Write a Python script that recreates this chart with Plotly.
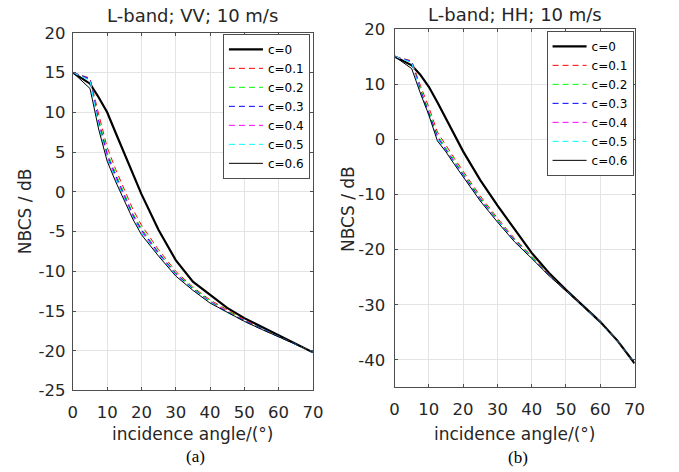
import plotly.graph_objects as go

# ---------------- data ----------------
angle = [0, 5, 7.5, 10, 12.5, 15, 17.5, 20, 25, 30, 35, 40, 45, 50, 55, 60, 65, 70]
labels = ["c=0", "c=0.1", "c=0.2", "c=0.3", "c=0.4", "c=0.5", "c=0.6"]

vv_c0 = [15, 13.6, 11.9, 10.0, 7.4, 4.8, 2.2, -0.3, -4.8, -8.6, -11.3, -12.9, -14.6, -15.9, -17.0, -18.1, -19.1, -20.2]
vv_c1 = [15, 14.3, 9.8, 5.6, 2.8, 0.2, -2.2, -4.2, -7.3, -10.0, -12.0, -13.6, -14.9, -16.1, -17.2, -18.2, -19.2, -20.2]
vv_c2 = [15, 14.2, 9.2, 5.0, 2.3, -0.3, -2.7, -4.6, -7.6, -10.2, -12.1, -13.7, -15.0, -16.2, -17.2, -18.2, -19.2, -20.2]
vv_c3 = [15, 14.2, 8.9, 4.7, 2.0, -0.5, -2.9, -4.8, -7.7, -10.3, -12.2, -13.8, -15.1, -16.2, -17.2, -18.2, -19.2, -20.2]
vv_c4 = [15, 14.1, 8.6, 4.4, 1.7, -0.7, -3.1, -5.0, -7.9, -10.4, -12.3, -13.8, -15.1, -16.3, -17.3, -18.2, -19.2, -20.2]
vv_c5 = [15, 14.0, 8.3, 4.1, 1.5, -0.9, -3.3, -5.2, -8.0, -10.5, -12.3, -13.9, -15.2, -16.3, -17.3, -18.2, -19.2, -20.2]
vv_c6 = [15, 13.0, 7.9, 3.85, 1.25, -1.2, -3.45, -5.4, -8.1, -10.6, -12.4, -14.0, -15.2, -16.3, -17.3, -18.2, -19.2, -20.2]

hh_c0 = [15, 13.4, 11.7, 9.5, 6.7, 3.7, 0.6, -2.2, -7.4, -12.0, -16.3, -20.6, -24.2, -27.3, -30.2, -33.1, -36.5, -40.6]
hh_c1 = [15, 14.2, 9.8, 5.8, 1.3, -1.2, -3.5, -5.8, -10.3, -14.3, -18.0, -21.2, -24.5, -27.4, -30.3, -33.1, -36.5, -40.6]
hh_c2 = [15, 14.1, 9.3, 5.2, 0.8, -1.6, -3.9, -6.1, -10.6, -14.5, -18.2, -21.3, -24.6, -27.5, -30.3, -33.1, -36.5, -40.6]
hh_c3 = [15, 14.1, 9.0, 4.9, 0.5, -1.9, -4.2, -6.4, -10.8, -14.7, -18.3, -21.4, -24.6, -27.5, -30.3, -33.1, -36.5, -40.6]
hh_c4 = [15, 14.0, 8.7, 4.6, 0.2, -2.1, -4.4, -6.6, -11.0, -14.8, -18.4, -21.5, -24.7, -27.5, -30.3, -33.1, -36.5, -40.6]
hh_c5 = [15, 13.9, 8.5, 4.3, 0.0, -2.2, -4.5, -6.7, -11.1, -14.9, -18.5, -21.5, -24.7, -27.5, -30.3, -33.1, -36.5, -40.6]
hh_c6 = [15, 12.8, 8.4, 4.4, -0.3, -2.3, -4.6, -6.8, -11.2, -15.0, -18.6, -21.6, -24.7, -27.5, -30.3, -33.1, -36.5, -40.6]

x_ticks = [0, 10, 20, 30, 40, 50, 60, 70]
vv_ticks = [-25, -20, -15, -10, -5, 0, 5, 10, 15, 20]
vv_ticktext = ["-25", "-20", "-15", "-10", "-5", "0", "5", "10", "15", "20"]
hh_ticks = [-40, -30, -20, -10, 0, 10, 20]
hh_ticktext = ["-40", "-30", "-20", "-10", "0", "10", "20"]

# ---------------- styles ----------------
styles = [
    dict(color="#000000", width=2.2, dash="solid"),
    dict(color="#ff0000", width=1, dash="6px,4px"),
    dict(color="#00ff00", width=1, dash="6px,4px"),
    dict(color="#0000ff", width=1, dash="6px,4px"),
    dict(color="#ff00ff", width=1, dash="6px,4px"),
    dict(color="#00ffff", width=1, dash="6px,4px"),
    dict(color="#000000", width=1, dash="solid"),
]

W, H = 679, 472
# the page shows the figure inside a box of about 674x456 starting at (3, 8)
OX, OY, SW, SH = 3, 8, 674, 456
FONT = "DejaVu Sans"
TXT = "#262626"


def fx(X):
    return (X - OX) / SW


def fy(Y):
    return 1 - (Y - OY) / SH


fig = go.Figure()
vv = [vv_c0, vv_c1, vv_c2, vv_c3, vv_c4, vv_c5, vv_c6]
hh = [hh_c0, hh_c1, hh_c2, hh_c3, hh_c4, hh_c5, hh_c6]
for lab, ys, st in zip(labels, vv, styles):
    fig.add_trace(go.Scatter(x=angle, y=ys, mode="lines", name=lab, line=st,
                             xaxis="x", yaxis="y", legend="legend"))
for lab, ys, st in zip(labels, hh, styles):
    fig.add_trace(go.Scatter(x=angle, y=ys, mode="lines", name=lab, line=st,
                             xaxis="x2", yaxis="y2", legend="legend2"))

axis_common = dict(showline=True, mirror="allticks", linecolor="#4d4d4d", linewidth=1,
                   ticks="inside", ticklen=3, tickcolor="#4d4d4d",
                   showgrid=True, gridcolor="#e4e4e4", gridwidth=1, zeroline=False,
                   tickfont=dict(family=FONT, size=16.5, color=TXT))

legend_common = dict(bgcolor="white", bordercolor="#4d4d4d", borderwidth=1,
                     font=dict(family=FONT, size=12, color="#000000"),
                     xanchor="right", yanchor="top", itemwidth=34, tracegroupgap=0)

fig.update_layout(
    width=W, height=H, margin=dict(l=0, r=0, t=0, b=0),
    paper_bgcolor="white", plot_bgcolor="white",
    xaxis=dict(domain=[fx(72), fx(316)], range=[0, 70], tickvals=x_ticks, anchor="y",
               ticklabelstandoff=7, **axis_common),
    yaxis=dict(domain=[fy(392), fy(32)], range=[-25, 20], tickvals=vv_ticks, ticktext=vv_ticktext,
               anchor="x", ticklabelstandoff=3, **axis_common),
    xaxis2=dict(domain=[fx(399), fx(643)], range=[0, 70], tickvals=x_ticks, anchor="y2",
                ticklabelstandoff=7, **axis_common),
    yaxis2=dict(domain=[fy(389), fy(28)], range=[-45, 20], tickvals=hh_ticks, ticktext=hh_ticktext,
                anchor="x2", ticklabelstandoff=5, **axis_common),
    legend=dict(x=fx(313), y=fy(33), **legend_common),
    legend2=dict(x=fx(642), y=fy(30), **legend_common),
    showlegend=True,
)


def ann(text, X, Y, size, family=FONT, angle=0, color=TXT):
    fig.add_annotation(text=text, x=fx(X), y=fy(Y), xref="paper", yref="paper",
                       showarrow=False, xanchor="center", yanchor="middle",
                       textangle=angle, font=dict(family=family, size=size, color=color))


ann("L-band; VV; 10 m/s", 194, 15, 18)
ann("L-band; HH; 10 m/s", 521, 14, 18)
ann("incidence angle/(°)", 194, 436, 17)
ann("incidence angle/(°)", 521, 436, 17)
ann("NBCS / dB", 23, 212, 17, angle=-90)
ann("NBCS / dB", 351, 209, 17, angle=-90)
ann("(a)", 197, 458, 17, family="Liberation Serif", color="#000000")
ann("(b)", 525, 459, 17, family="Liberation Serif", color="#000000")

fig.write_html("out.html")
